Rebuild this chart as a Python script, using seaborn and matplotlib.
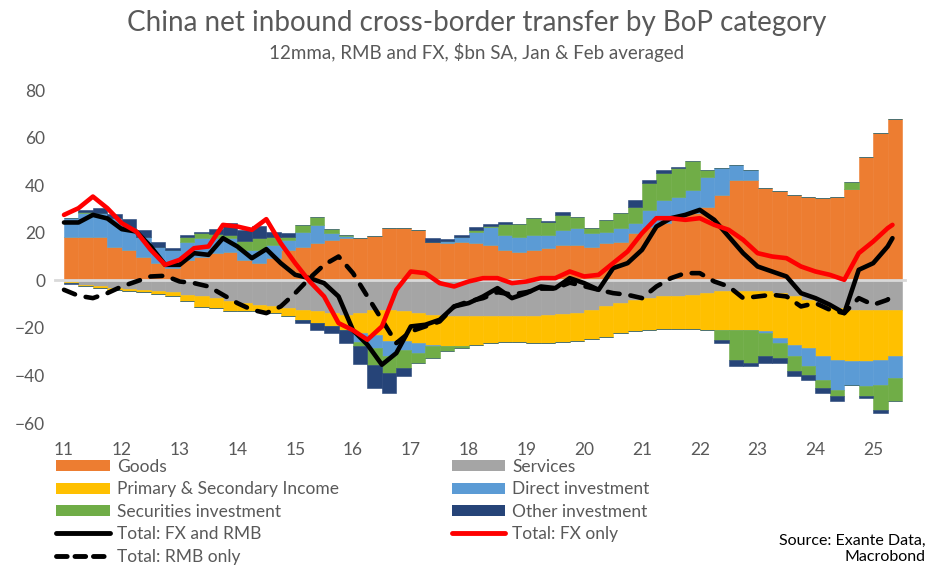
import numpy as np
import pandas as pd
import matplotlib
matplotlib.use("Agg")
import matplotlib.pyplot as plt
import matplotlib.transforms as mtransforms
from matplotlib.patches import Patch
from matplotlib.lines import Line2D
import seaborn as sns

# -----------------------------
# Data (12mma, $bn) at quarterly resolution
# -----------------------------
quarters = pd.period_range("2011Q1", "2025Q2", freq="Q")

goods = [18.4, 18.3, 18.3, 14.2, 12.8, 10.0, 7.3, 5.2, 8.6, 10.0, 11.5, 12.0,
         8.6, 7.3, 9.4, 12.8, 14.2, 15.7, 17.0, 17.8, 17.7, 18.7, 22.0, 22.0,
         21.2, 16.3, 15.6, 15.9, 15.7, 15.0, 12.8, 12.0, 12.8, 13.6, 15.0, 15.0,
         14.2, 15.7, 16.3, 20.0, 22.6, 24.0, 25.4, 28.3, 31.0, 36.0, 42.2, 42.2,
         38.7, 37.7, 36.0, 35.2, 34.8, 35.2, 38.5, 52.0, 62.0, 68.0]
services = [-0.8, -2.0, -2.6, -3.2, -3.6, -4.0, -4.7, -5.1, -6.1, -6.8, -7.5, -8.9,
            -9.6, -10.3, -11.0, -11.7, -12.4, -13.1, -13.8, -14.5, -13.8, -12.4, -12.4, -13.1,
            -13.8, -14.5, -15.2, -15.2, -15.2, -15.2, -15.2, -15.2, -15.0, -14.5, -14.1, -13.8,
            -12.4, -11.0, -9.6, -8.2, -7.5, -6.8, -6.5, -6.1, -5.4, -4.7, -4.3, -4.3,
            -4.7, -5.4, -6.8, -8.2, -10.3, -11.7, -12.4, -12.7, -12.7, -12.7]
income = [-0.4, -0.6, -0.6, -0.8, -1.1, -1.1, -1.1, -1.7, -2.8, -4.5, -4.2, -4.2,
          -3.5, -2.8, -2.8, -3.5, -4.2, -4.9, -5.6, -6.3, -8.4, -10.5, -13.3, -12.6,
          -12.6, -12.6, -12.6, -12.6, -11.9, -11.2, -10.8, -10.8, -11.4, -11.9, -11.9, -11.9,
          -12.3, -13.0, -12.6, -13.3, -13.3, -13.7, -14.0, -14.4, -15.4, -16.1, -16.5, -16.5,
          -16.8, -18.9, -20.3, -20.3, -21.7, -21.7, -21.7, -21.4, -20.7, -19.3]
direct_inv = [7.6, 10.1, 10.1, 12.0, 9.2, 8.4, 6.9, 7.6, 7.7, 7.8, 6.3, 5.8,
              4.2, 5.5, 5.6, 4.2, 6.3, 7.6, 3.0, 0.9, -3.8, -5.6, -6.3, -3.5,
              -4.2, -0.7, 0.8, 2.5, 4.8, 7.2, 6.3, 6.4, 6.2, 5.5, 6.2, 7.0,
              5.8, 4.5, 5.7, 4.0, 7.0, 9.8, 9.8, 9.7, 12.6, 11.1, 6.3, 4.0,
              -0.5, -2.0, -4.9, -7.7, -9.8, -12.6, -9.8, -10.5, -10.5, -9.1]
securities = [0.3, 0.3, 0.0, 0.0, 0.0, 0.0, 0.0, 0.0, 1.9, 2.2, 1.5, 1.4,
              3.9, 5.0, 3.4, 1.0, 2.8, 3.5, 1.6, 0.3, -1.5, -7.0, -7.0, -7.7,
              -4.2, -4.9, -2.1, -0.7, 0.5, 0.8, 4.6, 5.3, 7.2, 5.6, 6.3, 4.8,
              2.0, 5.0, 6.4, 7.0, 11.4, 11.2, 12.0, 12.0, 2.8, -4.2, -12.6, -14.0,
              -10.0, -6.4, -6.3, -3.5, -3.5, -2.8, 3.0, -4.2, -10.5, -9.8]
other_inv = [-0.3, 0.8, 2.1, 1.8, 3.8, 2.8, 2.1, 0.8, 0.9, 0.5, 2.3, 4.8,
             4.3, 5.2, 2.1, 2.0, -1.4, -2.8, -2.8, -5.6, -7.5, -9.8, -8.4, -3.5,
             0.0, 1.5, 1.0, 0.7, 1.5, 0.6, 0.8, 0.0, 0.0, 0.4, 1.0, 0.0,
             0.0, 0.0, 0.0, 2.8, 1.2, 1.4, 0.6, 0.2, 0.0, -1.4, -2.8, -1.4,
             -2.8, -2.1, -2.1, -2.1, -2.1, -2.1, 0.0, -0.5, -1.4, 0.0]

# line series, read at the start of each quarter plus the last month
line_months = [f"{y}-{m:02d}" for y in range(2011, 2026) for m in (1, 4, 7, 10)][:58] + ["2025-05"]
total_fx_rmb = [24.3, 24.3, 27.5, 26.0, 21.5, 20.5, 14.2, 6.5, 6.5, 11.4, 10.7, 17.7,
                14.2, 9.3, 13.1, 7.2, 2.3, 0.9, -1.2, -6.8, -21.0, -27.1, -35.5, -30.6,
                -19.4, -18.7, -16.6, -11.0, -9.6, -6.8, -3.3, -7.5, -5.4, -2.6, -3.3, 0.9,
                -1.2, -4.0, 5.1, 7.2, 12.8, 22.6, 26.1, 27.5, 29.6, 25.4, 18.4, 11.4,
                5.8, 3.7, 1.6, -5.4, -7.5, -10.3, -13.8, 4.4, 7.2, 14.2, 17.7]
total_fx = [27.5, 30.3, 35.2, 30.3, 24.0, 20.5, 12.8, 6.5, 8.6, 13.5, 14.2, 23.3,
            22.6, 21.2, 25.7, 15.6, 7.2, -0.5, -6.8, -18.0, -21.0, -25.0, -19.4, -4.0,
            3.7, 3.0, -1.2, -2.6, -0.5, 0.9, 0.9, -1.2, -0.5, 0.9, 0.9, 3.7,
            1.6, 2.3, 7.2, 12.1, 19.8, 26.1, 26.1, 25.4, 26.1, 23.3, 21.2, 17.0,
            11.4, 10.0, 9.3, 5.8, 3.7, 2.3, 0.2, 11.4, 16.3, 21.9, 23.3]
total_rmb = [-4.0, -6.5, -7.5, -5.4, -2.6, -0.5, 1.6, 1.9, -0.5, -1.2, -2.6, -6.1,
             -9.6, -12.4, -13.8, -11.0, -5.4, 0.9, 6.5, 10.0, 3.0, -6.8, -16.6, -26.4,
             -21.5, -19.4, -17.3, -11.0, -8.9, -7.5, -5.0, -6.0, -5.0, -3.5, -3.5, -1.0,
             -2.5, -4.0, -5.4, -6.1, -7.5, -2.6, 0.9, 3.0, 3.0, -0.5, -2.6, -7.5,
             -6.8, -6.1, -6.8, -11.0, -9.6, -12.4, -13.8, -7.5, -10.3, -8.2, -5.4]

year_ticks = list(range(2011, 2026))
year_labels = [str(y)[2:] for y in year_ticks]

# -----------------------------
# Style
# -----------------------------
bar_colors = {
    "Goods": "#ED7D31",
    "Services": "#A5A5A5",
    "Primary & Secondary Income": "#FFC000",
    "Direct investment": "#5B9BD5",
    "Securities investment": "#70AD47",
    "Other investment": "#264478",
}
grey_txt = "#595959"

sns.set_theme(style="white")
plt.rcParams["font.family"] = ["Lato", "DejaVu Sans"]

fig = plt.figure(figsize=(9.53, 5.65), dpi=100)
ax = fig.add_axes([55 / 953, (565 - 423) / 565, 850 / 953, 333 / 565])

# -----------------------------
# Stacked bars (positive and negative stacked separately)
# -----------------------------
x_bar = np.asarray(quarters.year + (quarters.quarter - 1) / 4 + 0.125, dtype=float)
components = [("Goods", goods), ("Services", services),
              ("Primary & Secondary Income", income), ("Direct investment", direct_inv),
              ("Securities investment", securities), ("Other investment", other_inv)]
pos_base = np.zeros(len(x_bar))
neg_base = np.zeros(len(x_bar))
for name, vals in components:
    v = np.asarray(vals, dtype=float)
    pos = np.where(v > 0, v, 0)
    neg = np.where(v < 0, v, 0)
    c = bar_colors[name]
    ax.bar(x_bar, pos, width=0.25, bottom=pos_base, color=c, edgecolor=c, linewidth=0.4, zorder=1)
    ax.bar(x_bar, neg, width=0.25, bottom=neg_base, color=c, edgecolor=c, linewidth=0.4, zorder=1)
    pos_base += pos
    neg_base += neg

# -----------------------------
# Lines
# -----------------------------
lm = pd.to_datetime(line_months)
x_line = np.asarray(lm.year + (lm.month - 1) / 12, dtype=float)
sns.lineplot(x=x_line, y=total_rmb, ax=ax, color="black", linewidth=3.3,
             linestyle=(0, (2.6, 2.4)), dash_capstyle="round", zorder=4)
sns.lineplot(x=x_line, y=total_fx_rmb, ax=ax, color="black", linewidth=3.3,
             solid_joinstyle="round", zorder=5)
sns.lineplot(x=x_line, y=total_fx, ax=ax, color="#FF0000", linewidth=3.3,
             solid_joinstyle="round", zorder=6)

# -----------------------------
# Axes
# -----------------------------
ax.set_xlim(2011 - 9 / 57.8, 2011 + (905 - 64) / 57.8)
ax.set_ylim(-60, 80)
ax.set_yticks(range(-60, 81, 20))
ax.set_xticks(year_ticks)
for s in ["top", "right", "left"]:
    ax.spines[s].set_visible(False)
ax.spines["bottom"].set_position(("data", 0))
ax.spines["bottom"].set_color("#D9D9D9")
ax.spines["bottom"].set_linewidth(2)
ax.spines["bottom"].set_zorder(2.5)
ax.tick_params(axis="x", direction="out", length=5, width=1.5, color="#D9D9D9", labelbottom=False)
ax.tick_params(axis="y", length=0, pad=7, labelsize=12.5, labelcolor=grey_txt)
ax.set_xlabel("")
ax.set_ylabel("")

trans = mtransforms.blended_transform_factory(ax.transData, ax.transAxes)
for yr, lab in zip(year_ticks, year_labels):
    ax.text(yr, -0.081, lab, transform=trans, ha="center", va="center",
            fontsize=12.5, color=grey_txt)

# -----------------------------
# Titles, legend, source
# -----------------------------
fig.text(0.5, 1 - 23 / 565, "China net inbound cross-border transfer by BoP category",
         ha="center", va="center", fontsize=20, color=grey_txt)
fig.text(0.5, 1 - 52 / 565, "12mma, RMB and FX, $bn SA, Jan & Feb averaged",
         ha="center", va="center", fontsize=13.5, color=grey_txt)

h = {name: Patch(facecolor=c, edgecolor="none") for name, c in bar_colors.items()}
h["Total: FX and RMB"] = Line2D([], [], color="black", lw=3.5, solid_capstyle="round")
h["Total: FX only"] = Line2D([], [], color="#FF0000", lw=3.5, solid_capstyle="round")
h["Total: RMB only"] = Line2D([], [], color="black", lw=3.5, linestyle=(0, (2.2, 1.6)),
                              dash_capstyle="round")
order = ["Goods", "Primary & Secondary Income", "Securities investment", "Total: FX and RMB",
         "Total: RMB only", "Services", "Direct investment", "Other investment", "Total: FX only"]
fig.legend([h[k] for k in order], order, loc="upper left",
           bbox_to_anchor=(56 / 953, 1 - 459 / 565), ncol=2, frameon=False,
           fontsize=12.5, labelcolor=grey_txt, handlelength=3.1, handleheight=0.6,
           handletextpad=0.4, columnspacing=6.5, labelspacing=0.37, borderpad=0,
           borderaxespad=0)

fig.text(926 / 953, 1 - 549 / 565, "Source: Exante Data,\nMacrobond", ha="right", va="center",
         multialignment="right", fontsize=11.5, color="black", linespacing=1.15)

fig.savefig("out.png", dpi=100)
